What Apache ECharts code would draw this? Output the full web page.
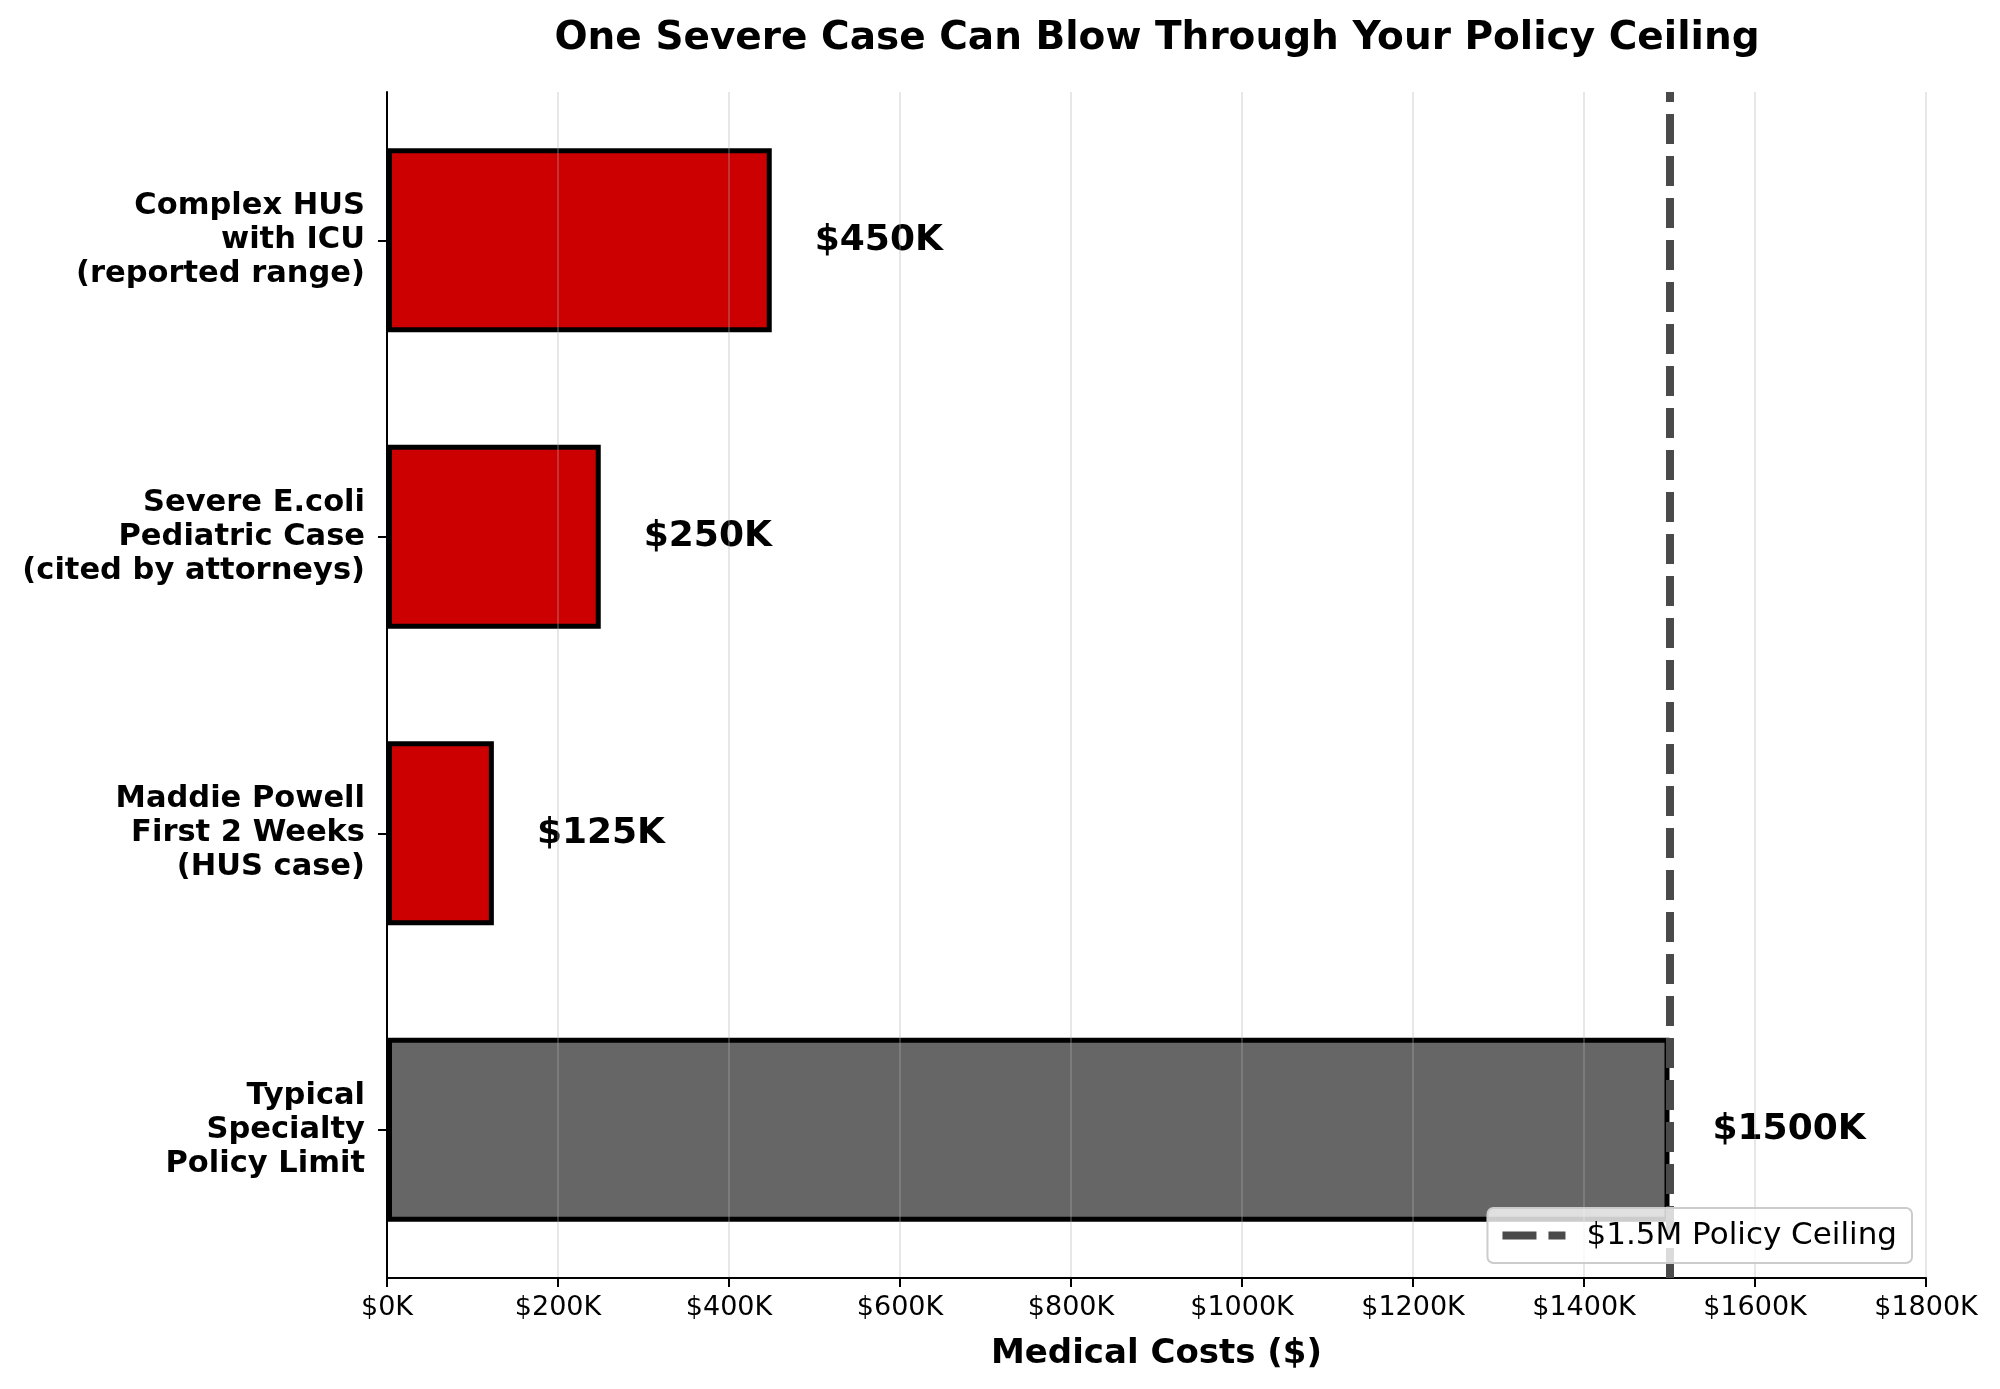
<!DOCTYPE html>
<html>
<head>
<meta charset="utf-8">
<script src="https://cdn.jsdelivr.net/npm/echarts@6/dist/echarts.min.js"></script>
<style>
  html, body { margin: 0; padding: 0; background: #ffffff; }
  #chart { width: 2000px; height: 1389px; }
</style>
</head>
<body>
<div id="chart"></div>
<script>
// Categories listed bottom -> top (ECharts category y axis order)
const categories = [
  'Typical\nSpecialty\nPolicy Limit',
  'Maddie Powell\nFirst 2 Weeks\n(HUS case)',
  'Severe E.coli\nPediatric Case\n(cited by attorneys)',
  'Complex HUS\nwith ICU\n(reported range)'
];
const costs = [1500000, 125000, 250000, 450000];
const barColors = ['#666666', '#cc0000', '#cc0000', '#cc0000'];
const xTickValues = [0, 200000, 400000, 600000, 800000, 1000000, 1200000, 1400000, 1600000, 1800000];
const xTickLabels = ['$0K', '$200K', '$400K', '$600K', '$800K', '$1000K', '$1200K', '$1400K', '$1600K', '$1800K'];
const ceilingValue = 1500000;
const ceilingName = '$1.5M Policy Ceiling';
const titleText = 'One Severe Case Can Blow Through Your Policy Ceiling';
const xAxisName = 'Medical Costs ($)';

const FONT = 'DejaVu Sans';
const chart = echarts.init(document.getElementById('chart'), null, { renderer: 'canvas' });

const option = {
  backgroundColor: '#ffffff',
  animation: false,
  title: {
    text: titleText,
    left: 1152,
    top: 14,
    textAlign: 'center',
    textStyle: { fontFamily: FONT, fontSize: 39, fontWeight: 'bold', color: '#000000' }
  },
  grid: { left: 387, right: 74, top: 92, bottom: 111, containLabel: false },
  legend: {
    data: [{
      name: ceilingName,
      icon: 'path://M0,0 H34 V8 H0 Z M46,0 H63 V8 H46 Z',
      itemStyle: { color: '#4a4a4a', borderWidth: 0 }
    }],
    right: 88,
    bottom: 126,
    orient: 'horizontal',
    itemWidth: 63,
    itemHeight: 8,
    padding: [12, 15, 12, 15],
    borderColor: '#cccccc',
    borderWidth: 2,
    borderRadius: 6,
    backgroundColor: 'rgba(255,255,255,0.8)',
    z: 10,
    textStyle: { fontFamily: FONT, fontSize: 31, color: '#000000', padding: [0, 0, 0, 16] }
  },
  xAxis: {
    type: 'value',
    min: 0,
    max: 1800000,
    interval: 200000,
    z: 3,
    name: xAxisName,
    nameLocation: 'middle',
    nameGap: 59,
    nameTextStyle: { fontFamily: FONT, fontSize: 34, fontWeight: 'bold', color: '#000000' },
    axisLine: { show: true, lineStyle: { color: '#000000', width: 2 } },
    axisTick: { show: true, length: 9, lineStyle: { color: '#000000', width: 2 } },
    axisLabel: {
      margin: 16,
      fontFamily: FONT,
      fontSize: 27,
      color: '#000000',
      formatter: function (v) {
        const i = xTickValues.indexOf(v);
        return i >= 0 ? xTickLabels[i] : '';
      }
    },
    splitLine: { show: true, lineStyle: { color: 'rgba(176,176,176,0.3)', width: 2 } }
  },
  yAxis: {
    type: 'category',
    data: categories,
    z: 3,
    axisLine: { show: true, lineStyle: { color: '#000000', width: 2 } },
    axisTick: { show: true, alignWithLabel: true, length: 9, lineStyle: { color: '#000000', width: 2 } },
    axisLabel: {
      margin: 22,
      fontFamily: FONT,
      fontSize: 30.5,
      fontWeight: 'bold',
      lineHeight: 34,
      color: '#000000',
      align: 'right'
    },
    splitLine: { show: false }
  },
  series: [
    {
      name: 'Costs',
      type: 'bar',
      barWidth: '62%',
      data: costs.map(function (v, i) {
        return { value: v, itemStyle: { color: barColors[i] } };
      }),
      itemStyle: { borderColor: '#000000', borderWidth: 5 },
      label: {
        show: true,
        position: 'right',
        distance: 43,
        fontFamily: FONT,
        fontSize: 36,
        fontWeight: 'bold',
        color: '#000000',
        formatter: function (p) { return '$' + (p.value / 1000) + 'K'; }
      },
      z: 2
    },
    {
      name: ceilingName,
      type: 'line',
      data: [],
      symbol: 'none',
      color: '#4a4a4a',
      lineStyle: { color: '#4a4a4a', width: 8, type: [30, 12] },
      markLine: {
        silent: true,
        symbol: ['none', 'none'],
        label: { show: false },
        lineStyle: { color: '#4a4a4a', width: 8, type: [30, 12] },
        data: [{ xAxis: ceilingValue }]
      },
      z: 4
    }
  ]
};

chart.setOption(option);
</script>
</body>
</html>
